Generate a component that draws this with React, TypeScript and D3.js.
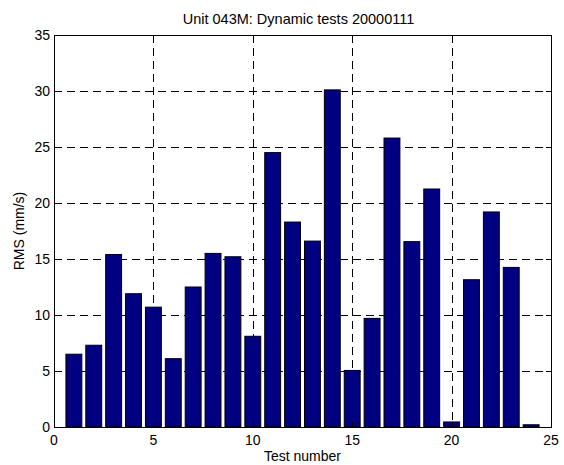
import React, { useRef, useEffect } from "react";
import * as d3 from "d3";

const testNumbers = [1, 2, 3, 4, 5, 6, 7, 8, 9, 10, 11, 12, 13, 14, 15, 16, 17, 18, 19, 20, 21, 22, 23, 24];
const rmsValues = [6.5, 7.3, 15.4, 11.9, 10.7, 6.1, 12.5, 15.5, 15.2, 8.1, 24.5, 18.3, 16.6, 30.1, 5.05, 9.7, 25.8, 16.55, 21.25, 0.45, 13.15, 19.2, 14.25, 0.2];
const xTicks = [0, 5, 10, 15, 20, 25];
const yTicks = [0, 5, 10, 15, 20, 25, 30, 35];

const W = 564;
const H = 465;
const margin = { top: 35, left: 54, right: 13, bottom: 38 };

const App = () => {
  const ref = useRef<SVGSVGElement>(null);

  useEffect(() => {
    const svg = d3.select(ref.current);
    svg.selectAll("*").remove();
    const font = "Liberation Sans, Arial, sans-serif";

    const x = d3.scaleLinear().domain([0, 25]).range([margin.left, W - margin.right]);
    const y = d3.scaleLinear().domain([0, 35]).range([H - margin.bottom, margin.top]);

    svg.append("rect").attr("width", W).attr("height", H).attr("fill", "#fff");

    // grid, drawn under the bars
    const grid = svg.append("g").attr("stroke", "#000").attr("stroke-width", 1).attr("stroke-dasharray", "8,5");
    grid.selectAll(".gx")
      .data(xTicks.slice(1, -1))
      .join("line")
      .attr("x1", (d) => Math.round(x(d)) + 0.5)
      .attr("x2", (d) => Math.round(x(d)) + 0.5)
      .attr("y1", y(35))
      .attr("y2", y(0));
    grid.selectAll(".gy")
      .data(yTicks.slice(1, -1))
      .join("line")
      .attr("y1", (d) => Math.round(y(d)) + 0.5)
      .attr("y2", (d) => Math.round(y(d)) + 0.5)
      .attr("x1", x(0))
      .attr("x2", x(25));

    // bars, width 0.8 like matlab
    const bw = x(0.8) - x(0);
    svg.append("g")
      .selectAll("rect")
      .data(testNumbers)
      .join("rect")
      .attr("x", (d) => x(d) - bw / 2)
      .attr("width", bw)
      .attr("y", (d, i) => y(rmsValues[i]))
      .attr("height", (d, i) => y(0) - y(rmsValues[i]))
      .attr("fill", "#000080")
      .attr("stroke", "#000")
      .attr("stroke-width", 1);

    // box + inward ticks
    const axes = svg.append("g").attr("stroke", "#000").attr("stroke-width", 1).attr("fill", "none");
    axes.append("rect")
      .attr("x", Math.round(x(0)) + 0.5)
      .attr("y", Math.round(y(35)) + 0.5)
      .attr("width", Math.round(x(25) - x(0)))
      .attr("height", Math.round(y(0) - y(35)));
    const tl = 5;
    xTicks.forEach((t) => {
      const px = Math.round(x(t)) + 0.5;
      axes.append("line").attr("x1", px).attr("x2", px).attr("y1", y(0)).attr("y2", y(0) - tl);
      axes.append("line").attr("x1", px).attr("x2", px).attr("y1", y(35)).attr("y2", y(35) + tl);
    });
    yTicks.forEach((t) => {
      const py = Math.round(y(t)) + 0.5;
      axes.append("line").attr("y1", py).attr("y2", py).attr("x1", x(0)).attr("x2", x(0) + tl);
      axes.append("line").attr("y1", py).attr("y2", py).attr("x1", x(25)).attr("x2", x(25) - tl);
    });

    // tick labels
    svg.append("g")
      .selectAll("text")
      .data(xTicks)
      .join("text")
      .attr("x", (d) => x(d))
      .attr("y", y(0) + 18)
      .attr("text-anchor", "middle")
      .attr("font-family", font)
      .attr("font-size", 14)
      .text((d) => d);
    svg.append("g")
      .selectAll("text")
      .data(yTicks)
      .join("text")
      .attr("x", x(0) - 4)
      .attr("y", (d) => y(d) + 5)
      .attr("text-anchor", "end")
      .attr("font-family", font)
      .attr("font-size", 14)
      .text((d) => d);

    // titles
    svg.append("text")
      .attr("x", (x(0) + x(25)) / 2 - 4)
      .attr("y", 24)
      .attr("text-anchor", "middle")
      .attr("font-family", font)
      .attr("font-size", 14.5)
      .text("Unit 043M: Dynamic tests 20000111");
    svg.append("text")
      .attr("x", (x(0) + x(25)) / 2)
      .attr("y", 461)
      .attr("text-anchor", "middle")
      .attr("font-family", font)
      .attr("font-size", 14)
      .text("Test number");
    svg.append("text")
      .attr("transform", `translate(24,${(y(0) + y(35)) / 2}) rotate(-90)`)
      .attr("text-anchor", "middle")
      .attr("font-family", font)
      .attr("font-size", 14)
      .text("RMS (mm/s)");
  }, []);

  return (
    <svg ref={ref} width={W} height={H} style={{ position: "absolute", left: 0, top: 0 }} />
  );
};

export default App;
